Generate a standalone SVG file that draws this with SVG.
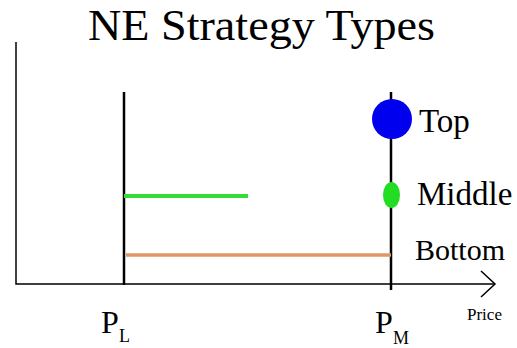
<svg xmlns="http://www.w3.org/2000/svg" width="517" height="348" viewBox="0 0 517 348">
<style>
.ax{stroke:#000;stroke-width:1.5;fill:none}
.vl{stroke:#000;stroke-width:2.5;fill:none}
</style>
<rect width="517" height="348" fill="#fff"/>
<text font-family="Liberation Serif" x="88" y="39.5" font-size="44" textLength="347" lengthAdjust="spacingAndGlyphs">NE Strategy Types</text>
<g id="connectors">
<path class="ax" d="M16,42 V284 H495"/>
<path class="ax" d="M481,271 L495,284 L481,297"/>
<line class="vl" x1="124" y1="92" x2="124" y2="285"/>
<line class="vl" x1="391" y1="92" x2="391" y2="290"/>
<line x1="124" y1="196" x2="248" y2="196" stroke="#33dd33" stroke-width="4"/>
<line x1="126" y1="255" x2="391" y2="255" stroke="#e0956a" stroke-width="3.5"/>
</g>
<g id="top">
<circle cx="392" cy="119" r="20" fill="#0000ee"/>
<text font-family="Liberation Serif" x="419" y="132" font-size="33">Top</text>
</g>
<g id="middle">
<ellipse cx="391.5" cy="195" rx="8.5" ry="13" fill="#22dd22"/>
<text font-family="Liberation Serif" x="417" y="205" font-size="33">Middle</text>
</g>
<g id="bottom">
<text font-family="Liberation Serif" x="415" y="260" font-size="30">Bottom</text>
</g>
<g id="pl">
<text font-family="Liberation Serif" x="101" y="333" font-size="32">P</text>
<text font-family="Liberation Serif" x="119" y="342" font-size="18">L</text>
</g>
<g id="pm">
<text font-family="Liberation Serif" x="375" y="333" font-size="32">P</text>
<text font-family="Liberation Serif" x="393" y="344" font-size="18">M</text>
</g>
<g id="price">
<text font-family="Liberation Serif" x="467" y="320" font-size="17">Price</text>
</g>
</svg>
